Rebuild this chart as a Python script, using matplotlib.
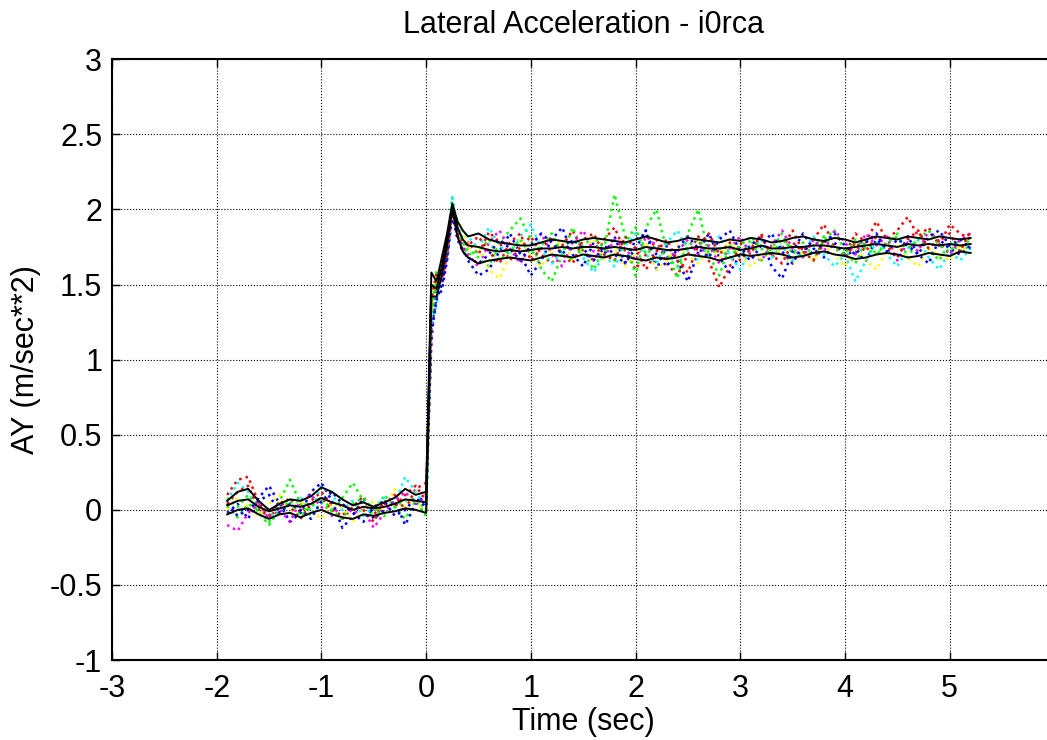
import matplotlib
matplotlib.use('Agg')
import matplotlib.pyplot as plt

TIME = [-1.9, -1.8, -1.7, -1.6, -1.5, -1.4, -1.3, -1.2, -1.1, -1.0,
        -0.9, -0.8, -0.7, -0.6, -0.5, -0.4, -0.3, -0.2, -0.1, 0.0,
        0.05, 0.1, 0.15, 0.2, 0.25, 0.3, 0.35, 0.4,
        0.5, 0.6, 0.7, 0.8, 0.9, 1.0, 1.1, 1.2, 1.3, 1.4, 1.5, 1.6,
        1.7, 1.8, 1.9, 2.0, 2.1, 2.2, 2.3, 2.4, 2.5, 2.6, 2.7, 2.8,
        2.9, 3.0, 3.1, 3.2, 3.3, 3.4, 3.5, 3.6, 3.7, 3.8, 3.9, 4.0,
        4.1, 4.2, 4.3, 4.4, 4.5, 4.6, 4.7, 4.8, 4.9, 5.0, 5.1, 5.2]

# individual runs (dotted)
RED_1 = [0.10, 0.20, 0.22, 0.05, -0.05, 0.02, 0.08, -0.02, 0.06, 0.12,
         0.03, -0.06, 0.02, 0.09, -0.03, 0.04, 0.10, 0.00, 0.14, 0.18,
         1.10, 1.52, 1.50, 1.70, 1.98, 1.84, 1.72, 1.78,
         1.70, 1.85, 1.78, 1.66, 1.75, 1.82, 1.70, 1.64, 1.76, 1.86, 1.72, 1.66,
         1.80, 1.88, 1.72, 1.60, 1.70, 1.80, 1.64, 1.56, 1.70, 1.82, 1.66, 1.48,
         1.62, 1.78, 1.70, 1.84, 1.68, 1.74, 1.86, 1.72, 1.80, 1.90, 1.76, 1.70,
         1.84, 1.78, 1.92, 1.80, 1.86, 1.95, 1.82, 1.88, 1.76, 1.90, 1.84, 1.80]
GREEN_1 = [0.02, -0.05, 0.04, 0.00, -0.08, 0.06, 0.20, 0.04, -0.04, 0.05,
           -0.02, 0.08, 0.18, 0.06, -0.05, 0.10, 0.02, -0.06, 0.06, -0.04,
           1.30, 1.60, 1.58, 1.78, 2.08, 1.88, 1.80, 1.74,
           1.68, 1.62, 1.78, 1.86, 1.94, 1.80, 1.60, 1.52, 1.70, 1.88, 1.72, 1.60,
           1.74, 2.10, 1.82, 1.56, 1.88, 2.00, 1.72, 1.54, 1.84, 2.00, 1.70, 1.56,
           1.76, 1.68, 1.80, 1.66, 1.74, 1.84, 1.70, 1.78, 1.66, 1.80, 1.86, 1.72,
           1.64, 1.80, 1.70, 1.76, 1.84, 1.68, 1.80, 1.74, 1.66, 1.78, 1.72, 1.76]
BLUE_1 = [-0.02, 0.04, -0.06, 0.08, 0.16, 0.04, -0.08, -0.02, 0.12, 0.18,
          0.06, -0.12, -0.04, 0.08, -0.06, 0.00, 0.06, -0.10, 0.04, 0.10,
          1.20, 1.42, 1.46, 1.66, 1.98, 1.82, 1.76, 1.66,
          1.56, 1.60, 1.72, 1.84, 1.70, 1.56, 1.66, 1.80, 1.88, 1.70, 1.62, 1.78,
          1.70, 1.82, 1.64, 1.74, 1.86, 1.60, 1.76, 1.66, 1.52, 1.72, 1.84, 1.68,
          1.58, 1.70, 1.76, 1.82, 1.62, 1.54, 1.72, 1.84, 1.74, 1.68, 1.78, 1.70,
          1.72, 1.66, 1.80, 1.74, 1.68, 1.82, 1.70, 1.64, 1.80, 1.74, 1.70, 1.76]
CYAN_1 = [0.06, 0.18, 0.12, 0.02, -0.06, 0.04, -0.02, 0.08, 0.00, 0.16,
          0.10, 0.00, 0.06, -0.04, 0.02, 0.08, 0.04, 0.22, 0.12, 0.02,
          1.25, 1.36, 1.60, 1.72, 2.08, 1.90, 1.86, 1.82,
          1.74, 1.88, 1.76, 1.70, 1.82, 1.90, 1.74, 1.64, 1.72, 1.80, 1.68, 1.58,
          1.70, 1.62, 1.76, 1.84, 1.70, 1.64, 1.78, 1.86, 1.72, 1.66, 1.76, 1.82,
          1.70, 1.60, 1.74, 1.80, 1.68, 1.76, 1.66, 1.72, 1.82, 1.70, 1.62, 1.70,
          1.52, 1.66, 1.78, 1.70, 1.62, 1.74, 1.80, 1.68, 1.60, 1.72, 1.66, 1.74]
MAGENTA_1 = [-0.10, -0.14, -0.02, 0.04, -0.06, 0.00, -0.08, 0.06, 0.10, 0.02,
             -0.04, 0.04, -0.02, 0.00, -0.12, -0.02, 0.06, 0.12, 0.04, 0.08,
             1.22, 1.48, 1.56, 1.74, 2.00, 1.82, 1.74, 1.70,
             1.62, 1.78, 1.86, 1.74, 1.64, 1.76, 1.84, 1.70, 1.62, 1.78, 1.86, 1.72,
             1.68, 1.80, 1.74, 1.66, 1.82, 1.76, 1.68, 1.72, 1.80, 1.70, 1.76, 1.64,
             1.74, 1.82, 1.70, 1.66, 1.76, 1.86, 1.74, 1.68, 1.80, 1.72, 1.86, 1.78,
             1.70, 1.84, 1.76, 1.82, 1.66, 1.78, 1.72, 1.86, 1.78, 1.70, 1.80, 1.84]
YELLOW_1 = [0.00, 0.08, 0.02, -0.04, 0.04, 0.10, -0.02, 0.06, 0.00, -0.06,
            0.04, 0.02, -0.08, 0.00, 0.06, 0.00, 0.14, 0.02, 0.06, -0.02,
            1.30, 1.55, 1.62, 1.76, 1.95, 1.92, 1.86, 1.74,
            1.76, 1.60, 1.54, 1.70, 1.80, 1.68, 1.62, 1.74, 1.80, 1.66, 1.74, 1.80,
            1.66, 1.74, 1.62, 1.70, 1.78, 1.60, 1.66, 1.76, 1.70, 1.64, 1.74, 1.68,
            1.80, 1.70, 1.62, 1.68, 1.76, 1.70, 1.64, 1.72, 1.66, 1.76, 1.70, 1.62,
            1.74, 1.66, 1.60, 1.72, 1.76, 1.68, 1.62, 1.74, 1.70, 1.66, 1.76, 1.70]
RED_2 = [0.04, 0.12, 0.16, 0.00, -0.04, 0.06, 0.02, -0.06, 0.04, 0.08,
         0.00, -0.04, 0.04, 0.00, -0.08, 0.06, 0.02, 0.10, 0.16, 0.06,
         1.40, 1.58, 1.54, 1.70, 2.00, 1.86, 1.78, 1.76,
         1.82, 1.72, 1.64, 1.78, 1.84, 1.66, 1.74, 1.82, 1.70, 1.64, 1.80, 1.84,
         1.70, 1.66, 1.82, 1.74, 1.60, 1.72, 1.80, 1.66, 1.58, 1.76, 1.84, 1.70,
         1.78, 1.66, 1.74, 1.82, 1.70, 1.64, 1.78, 1.72, 1.66, 1.80, 1.76, 1.68,
         1.78, 1.72, 1.82, 1.76, 1.68, 1.80, 1.86, 1.74, 1.80, 1.84, 1.72, 1.86]
GREEN_2 = [0.08, 0.02, 0.10, -0.02, -0.10, 0.00, 0.06, -0.04, 0.02, 0.08,
           0.00, -0.06, 0.04, 0.08, 0.00, -0.04, 0.02, 0.06, 0.08, 0.00,
           1.28, 1.52, 1.60, 1.70, 2.04, 1.86, 1.78, 1.70,
           1.72, 1.80, 1.66, 1.72, 1.80, 1.70, 1.76, 1.84, 1.70, 1.66, 1.76, 1.82,
           1.74, 1.66, 1.78, 1.88, 1.70, 1.76, 1.68, 1.62, 1.76, 1.80, 1.70, 1.74,
           1.68, 1.76, 1.82, 1.74, 1.70, 1.80, 1.74, 1.68, 1.76, 1.82, 1.74, 1.70,
           1.80, 1.74, 1.70, 1.78, 1.82, 1.74, 1.80, 1.86, 1.76, 1.72, 1.80, 1.78]
BLUE_2 = [0.04, -0.04, 0.00, 0.06, 0.10, -0.02, 0.04, 0.00, -0.06, 0.06,
          0.12, 0.04, -0.02, -0.08, 0.02, 0.06, -0.04, 0.00, 0.08, 0.02,
          1.18, 1.40, 1.50, 1.68, 1.96, 1.80, 1.72, 1.68,
          1.64, 1.70, 1.80, 1.74, 1.66, 1.76, 1.84, 1.78, 1.70, 1.80, 1.74, 1.66,
          1.76, 1.70, 1.64, 1.80, 1.84, 1.70, 1.62, 1.74, 1.82, 1.74, 1.68, 1.80,
          1.86, 1.72, 1.66, 1.76, 1.84, 1.72, 1.64, 1.76, 1.70, 1.78, 1.84, 1.76,
          1.70, 1.78, 1.84, 1.72, 1.80, 1.76, 1.70, 1.82, 1.86, 1.76, 1.80, 1.74]

# mean and +/- one std (solid black)
UPPER = [0.06, 0.12, 0.14, 0.06, 0.00, 0.04, 0.07, 0.06, 0.09, 0.15,
         0.12, 0.07, 0.03, 0.05, 0.02, 0.05, 0.08, 0.14, 0.10, 0.12,
         1.58, 1.52, 1.68, 1.84, 2.04, 1.92, 1.86, 1.82,
         1.84, 1.80, 1.78, 1.77, 1.76, 1.76, 1.78, 1.80, 1.79, 1.78, 1.80, 1.81,
         1.80, 1.79, 1.78, 1.80, 1.82, 1.80, 1.78, 1.79, 1.81, 1.80, 1.79, 1.78,
         1.80, 1.79, 1.81, 1.80, 1.78, 1.79, 1.81, 1.82, 1.80, 1.79, 1.81, 1.80,
         1.78, 1.80, 1.82, 1.81, 1.80, 1.82, 1.81, 1.80, 1.82, 1.81, 1.80, 1.81]
MEAN = [0.03, 0.06, 0.07, 0.02, -0.01, 0.01, 0.03, 0.02, 0.04, 0.08,
        0.05, 0.03, 0.00, 0.02, 0.01, 0.02, 0.04, 0.07, 0.06, 0.05,
        1.50, 1.47, 1.62, 1.80, 2.02, 1.88, 1.80, 1.76,
        1.75, 1.73, 1.72, 1.73, 1.72, 1.73, 1.74, 1.74, 1.75, 1.74, 1.75, 1.75,
        1.74, 1.75, 1.74, 1.73, 1.75, 1.74, 1.73, 1.73, 1.74, 1.75, 1.74, 1.74,
        1.75, 1.73, 1.74, 1.76, 1.74, 1.74, 1.75, 1.75, 1.76, 1.76, 1.75, 1.74,
        1.75, 1.76, 1.77, 1.76, 1.75, 1.77, 1.76, 1.77, 1.76, 1.77, 1.76, 1.77]
LOWER = [-0.03, 0.00, 0.01, -0.03, -0.06, -0.03, -0.02, -0.05, -0.02, 0.00,
         -0.03, -0.05, -0.06, -0.03, -0.04, -0.02, -0.01, 0.01, 0.00, -0.02,
         1.42, 1.42, 1.56, 1.76, 2.00, 1.82, 1.72, 1.68,
         1.64, 1.66, 1.67, 1.68, 1.67, 1.66, 1.68, 1.70, 1.69, 1.68, 1.70, 1.69,
         1.68, 1.70, 1.69, 1.67, 1.66, 1.68, 1.67, 1.68, 1.70, 1.69, 1.68, 1.66,
         1.68, 1.70, 1.69, 1.70, 1.71, 1.70, 1.68, 1.69, 1.71, 1.72, 1.70, 1.69,
         1.67, 1.68, 1.70, 1.71, 1.70, 1.68, 1.69, 1.71, 1.70, 1.69, 1.72, 1.71]

RUNS = [(RED_1, '#ff0000'), (GREEN_1, '#00ff00'), (BLUE_1, '#0000ff'),
        (CYAN_1, '#00ffff'), (MAGENTA_1, '#ff00ff'), (YELLOW_1, '#ffff00'),
        (RED_2, '#ff0000'), (GREEN_2, '#00ff00'), (BLUE_2, '#0000ff')]

plt.rcParams['font.family'] = ['Liberation Sans', 'DejaVu Sans']
FS = 22

fig = plt.figure(figsize=(10.47, 7.40), dpi=100)
ax = fig.add_axes([0.107, 0.108, 0.900, 0.812])

for values, color in RUNS:
    ax.plot(TIME, values, color=color, linestyle=':', linewidth=1.8)

for values in (UPPER, MEAN, LOWER):
    ax.plot(TIME, values, color='black', linewidth=1.4)

ax.set_xlim(-3, 6)
ax.set_ylim(-1, 3)
ax.set_xticks(range(-3, 7))
ax.set_xticklabels([str(v) for v in range(-3, 6)] + [''])
ax.set_yticks([-1, -0.5, 0, 0.5, 1, 1.5, 2, 2.5, 3])
ax.set_yticklabels(['-1', '-0.5', '0', '0.5', '1', '1.5', '2', '2.5', '3'])

ax.grid(True, color='black', linestyle=':', linewidth=0.8)
ax.tick_params(direction='in', top=True, right=True, length=6, width=1,
               labelsize=FS)
ax.tick_params(axis='x', pad=10)
ax.tick_params(axis='y', pad=7)
for spine in ax.spines.values():
    spine.set_linewidth(1.5)

ax.set_title('Lateral Acceleration - i0rca', fontsize=FS, pad=19)
ax.set_xlabel('Time (sec)', fontsize=FS, labelpad=2)
ax.set_ylabel('AY (m/sec**2)', fontsize=FS, labelpad=6)

fig.savefig('out.png', dpi=100)
